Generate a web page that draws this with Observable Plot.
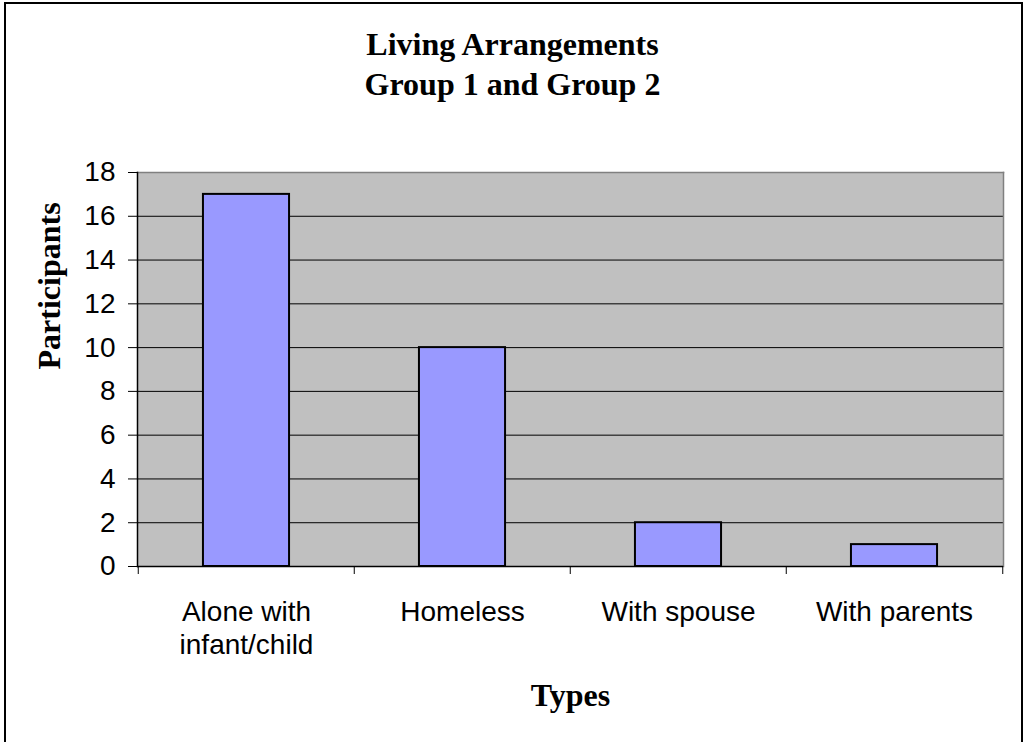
<!DOCTYPE html>
<html>
<head>
<meta charset="utf-8">
<script src="https://cdn.jsdelivr.net/npm/d3@7"></script>
<script src="https://cdn.jsdelivr.net/npm/@observablehq/plot@0.6"></script>
<style>
  html, body { margin: 0; padding: 0; background: #fff; }
  #wrap { position: relative; width: 1025px; height: 742px; overflow: hidden; }
  #border { position: absolute; left: 4px; top: 2px; width: 1015px; height: 800px; border: 2px solid #000; pointer-events: none; }
  #title { height: 110px; box-sizing: border-box; padding-top: 24px; text-align: center;
           font-family: "Liberation Serif", "Times New Roman", serif; font-weight: bold;
           font-size: 32px; line-height: 40px; color: #000; }
  svg { display: block; overflow: visible; }
</style>
</head>
<body>
<div id="wrap">
  <div id="title"></div>
  <div id="chart"></div>
  <div id="border"></div>
</div>
<script>
const titleLines = ["Living Arrangements", "Group 1 and Group 2"];
const xTitle = "Types";
const yTitle = "Participants";
const categories = ["Alone with infant/child", "Homeless", "With spouse", "With parents"];
const tickLabels = ["Alone with\ninfant/child", "Homeless", "With spouse", "With parents"];
const participants = [17, 10, 2, 1];
const yTicks = [0, 2, 4, 6, 8, 10, 12, 14, 16, 18];

document.getElementById("title").innerHTML = titleLines.join("<br>");

const data = categories.map((c, i) => ({type: c, count: participants[i], label: tickLabels[i]}));

const W = 1025, H = 632;
const mL = 137, mR = 22, mT = 62, mB = 176;
const bw = (W - mL - mR) / categories.length;
const frameH = H - mT - mB;
const sans = "'Liberation Sans', Arial, sans-serif";
const serif = "'Liberation Serif', 'Times New Roman', serif";

const chart = Plot.plot({
  width: W,
  height: H,
  marginLeft: mL,
  marginRight: mR,
  marginTop: mT,
  marginBottom: mB,
  style: {fontFamily: sans, background: "transparent", color: "#000", overflow: "visible"},
  x: {domain: categories, padding: 0, axis: null},
  y: {domain: [yTicks[0], yTicks[yTicks.length - 1]], axis: null},
  marks: [
    Plot.frame({fill: "#C0C0C0", stroke: "none"}),
    Plot.ruleY(yTicks.slice(1, -1), {stroke: "#000", strokeWidth: 1}),
    Plot.frame({anchor: "top", stroke: "#808080", strokeWidth: 1.5}),
    Plot.frame({anchor: "right", stroke: "#808080", strokeWidth: 1.5}),
    Plot.barY(data, {x: "type", y: "count", fill: "#9999FF", stroke: "#000", strokeWidth: 2,
      insetLeft: bw * 0.3, insetRight: bw * 0.3}),
    Plot.axisY({ticks: yTicks, tickSize: 9, tickPadding: 13, fontSize: 28, tickFormat: d => String(d),
      label: null, stroke: "#000"}),
    Plot.frame({anchor: "left", stroke: "#000", strokeWidth: 1.5}),
    Plot.ruleY([0], {stroke: "#000", strokeWidth: 1.5}),
    Plot.ruleX(categories, {x: d => d, dx: -bw / 2, insetTop: frameH, insetBottom: -8, stroke: "#000"}),
    Plot.ruleX([categories[categories.length - 1]], {x: d => d, dx: bw / 2, insetTop: frameH, insetBottom: -8, stroke: "#000"}),
    Plot.text(data, {x: "type", text: "label", frameAnchor: "bottom", lineAnchor: "top", dy: 30,
      fontSize: 28, lineHeight: 1.21, fill: "#000", fontFamily: sans}),
    Plot.text([xTitle], {text: d => d, frameAnchor: "bottom", lineAnchor: "middle", dy: 129,
      fontSize: 32, fontWeight: "bold", fontFamily: serif, fill: "#000"}),
    Plot.text([yTitle], {text: d => d, frameAnchor: "left", lineAnchor: "middle", rotate: -90, dx: -88,
      fontSize: 32, fontWeight: "bold", fontFamily: serif, fill: "#000"})
  ]
});
document.getElementById("chart").appendChild(chart);
</script>
</body>
</html>
